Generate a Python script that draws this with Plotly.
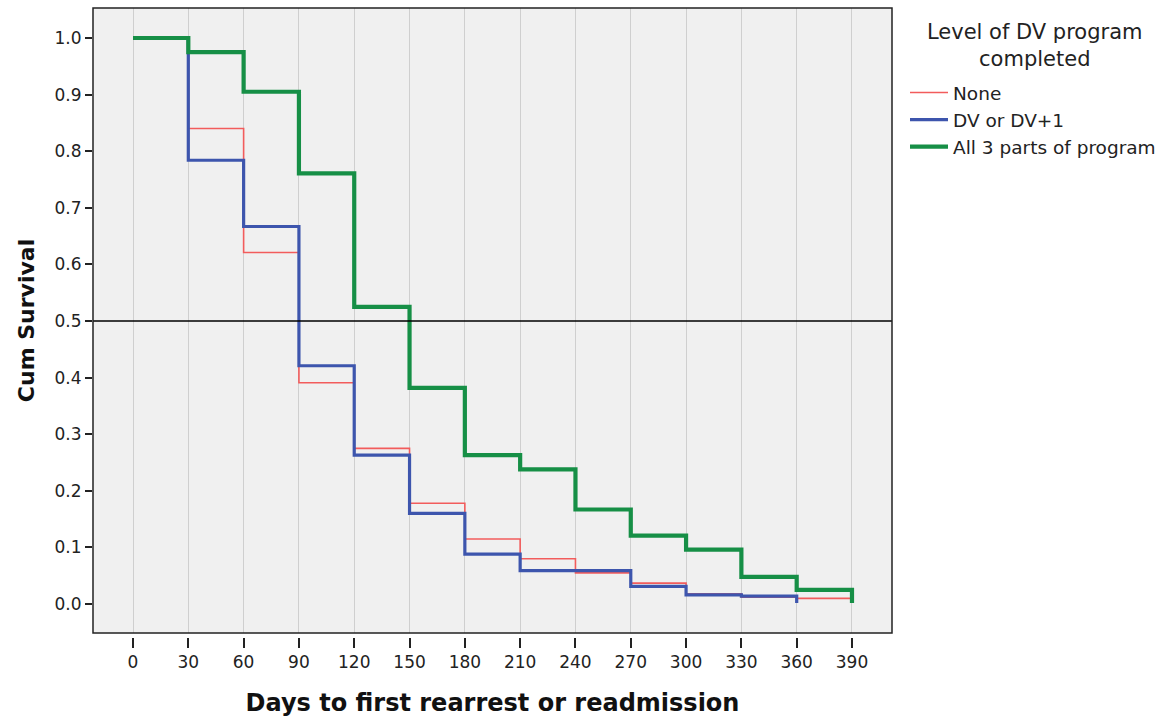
import plotly.graph_objects as go

# Days (step start points)
days_none = [0, 30, 60, 90, 120, 150, 180, 210, 240, 270, 300, 330, 360, 390]
surv_none = [1.0, 0.840, 0.621, 0.391, 0.275, 0.178, 0.115, 0.080, 0.055, 0.037, 0.018, 0.012, 0.010, 0.010]

days_dv = [0, 30, 60, 90, 120, 150, 180, 210, 240, 270, 300, 330, 360]
surv_dv = [1.0, 0.784, 0.667, 0.421, 0.263, 0.160, 0.088, 0.059, 0.059, 0.031, 0.016, 0.014, 0.002]

days_all3 = [0, 30, 60, 90, 120, 150, 180, 210, 240, 270, 300, 330, 360, 390]
surv_all3 = [1.0, 0.975, 0.905, 0.761, 0.525, 0.382, 0.263, 0.238, 0.167, 0.121, 0.096, 0.048, 0.025, 0.002]

series_names = ["None", "DV or DV+1", "All 3 parts of program"]
legend_title = "Level of DV program<br>completed"
x_ticks = list(range(0, 391, 30))
y_ticks = [round(i * 0.1, 1) for i in range(11)]
median_line = 0.5

FONT = "DejaVu Sans, Verdana, sans-serif"

fig = go.Figure()
fig.add_trace(go.Scatter(x=days_none, y=surv_none, mode="lines", line_shape="hv",
                         name=series_names[0], line=dict(color="#f25c5c", width=1.6)))
fig.add_trace(go.Scatter(x=days_dv, y=surv_dv, mode="lines", line_shape="hv",
                         name=series_names[1], line=dict(color="#3d55ad", width=3.2)))
fig.add_trace(go.Scatter(x=days_all3, y=surv_all3, mode="lines", line_shape="hv",
                         name=series_names[2], line=dict(color="#168f46", width=4.2)))

fig.add_shape(type="line", xref="paper", yref="y", x0=0, x1=1, y0=median_line, y1=median_line,
              line=dict(color="#000000", width=1.3))
# plot frame
fig.add_shape(type="rect", xref="paper", yref="paper", x0=0, x1=1, y0=4/629, y1=1,
              line=dict(color="#222222", width=1.5), fillcolor="rgba(0,0,0,0)")

fig.add_annotation(text=legend_title, xref="paper", yref="paper",
                   x=(1035 - 93) / 799, y=(637 - 45) / 629, xanchor="center", yanchor="middle",
                   align="center", showarrow=False,
                   font=dict(family=FONT, size=21, color="#222222"))

fig.update_layout(
    width=1170, height=723,
    margin=dict(l=93, r=278, t=8, b=86),
    paper_bgcolor="white",
    plot_bgcolor="#f0f0f0",
    showlegend=True,
    legend=dict(
        x=(905 - 93) / 799, y=(637 - 74) / 629, xanchor="left", yanchor="top",
        font=dict(family=FONT, size=18.5, color="#222222"),
        bgcolor="rgba(0,0,0,0)", tracegroupgap=0, itemwidth=38,
    ),
    xaxis=dict(
        range=[-21.7, 411.7], tickvals=x_ticks, ticktext=[str(v) for v in x_ticks],
        showgrid=True, gridcolor="#cfcfcf", gridwidth=1.2, zeroline=False,
        showline=False, ticks="outside", ticklen=10, tickwidth=1.5, tickcolor="#222222",
        anchor="free", position=0,
        tickfont=dict(family=FONT, size=17, color="#222222"),
        title=dict(text="<b>Days to first rearrest or readmission</b>", standoff=22,
                   font=dict(family=FONT, size=24, color="#111111")),
    ),
    yaxis=dict(
        domain=[4/629, 1],
        range=[-0.0512, 1.053], tickvals=y_ticks, ticktext=[f"{v:.1f}" for v in y_ticks],
        showgrid=False, zeroline=False, showline=False,
        ticks="outside", ticklen=7, tickwidth=1.5, tickcolor="#222222",
        tickfont=dict(family=FONT, size=17, color="#222222"),
        title=dict(text="<b>Cum Survival</b>", standoff=13,
                   font=dict(family=FONT, size=22, color="#111111")),
    ),
)

fig.write_html("out.html")
